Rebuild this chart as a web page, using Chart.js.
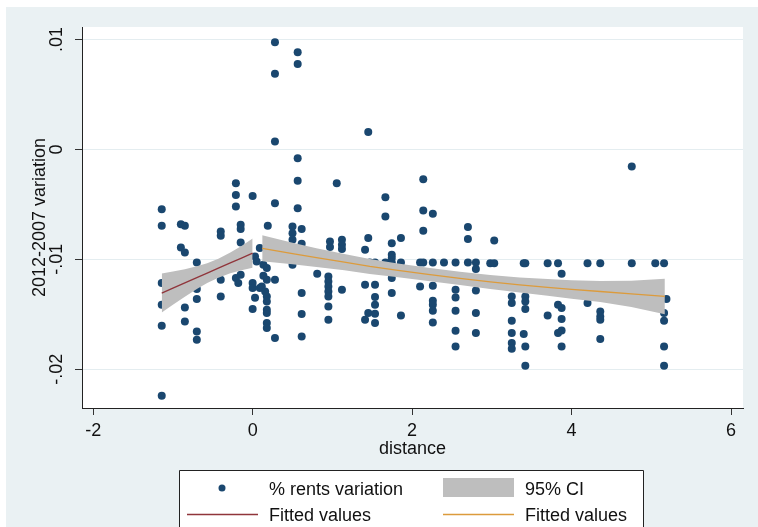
<!DOCTYPE html>
<html>
<head>
<meta charset="utf-8">
<script src="https://cdn.jsdelivr.net/npm/chart.js@4/dist/chart.umd.min.js"></script>
<style>
  html, body { margin: 0; padding: 0; background: #fff; }
  canvas { display: block; }
</style>
</head>
<body>
<canvas id="chart" width="758" height="527"></canvas>
<script>
// scatter: distance vs 2012-2007 rent variation
const distance = [
  -1.14, -1.14, -1.14, -1.14, -1.14, -1.14,
  -0.90, -0.90,
  -0.85, -0.85, -0.85, -0.85,
  -0.70, -0.70, -0.70, -0.70, -0.70,
  -0.40, -0.40, -0.40, -0.40,
  -0.21, -0.21, -0.21, -0.21,
  -0.18,
  -0.15, -0.15, -0.15, -0.15,
  0.00, 0.00, 0.00, 0.00,
  0.03, 0.03,
  0.05,
  0.09, 0.09,
  0.115,
  0.135, 0.135,
  0.157,
  0.178, 0.178, 0.178, 0.178, 0.178, 0.178, 0.178, 0.178,
  0.19,
  0.28, 0.28, 0.28, 0.28, 0.28, 0.28,
  0.50, 0.50, 0.50, 0.50,
  0.565, 0.565, 0.565, 0.565, 0.565,
  0.615, 0.615, 0.615, 0.615, 0.615,
  0.81,
  0.95, 0.95, 0.95, 0.95, 0.95, 0.95, 0.95,
  0.97, 0.97,
  1.055,
  1.12, 1.12, 1.12, 1.12,
  1.41, 1.41, 1.41,
  1.45, 1.45, 1.45,
  1.47,
  1.535, 1.535, 1.535, 1.535, 1.535, 1.535,
  1.665, 1.665, 1.665,
  1.745, 1.745, 1.745, 1.745, 1.745, 1.745,
  1.86, 1.86, 1.86,
  2.10, 2.10,
  2.14, 2.14, 2.14, 2.14,
  2.26, 2.26, 2.26, 2.26, 2.26, 2.26, 2.26,
  2.40,
  2.545, 2.545, 2.545, 2.545, 2.545, 2.545,
  2.70, 2.70, 2.70,
  2.80, 2.80, 2.80, 2.80, 2.80,
  2.98,
  3.03, 3.03,
  3.25, 3.25, 3.25, 3.25, 3.25, 3.25,
  3.40, 3.40,
  3.42, 3.42, 3.42, 3.42, 3.42, 3.42,
  3.70, 3.70,
  3.83, 3.83, 3.83,
  3.875, 3.875, 3.875, 3.875, 3.875,
  4.20, 4.20,
  4.36, 4.36, 4.36, 4.36, 4.36,
  4.755, 4.755,
  5.05,
  5.16, 5.16, 5.16, 5.16, 5.16,
  5.19
];
const rentVar = [
  -.00544, -.00695, -.01216, -.01414, -.01605, -.02241,
  -.00680, -.00893,
  -.00695, -.00938, -.01438, -.01565,
  -.01029, -.01271, -.01362, -.01656, -.01732,
  -.00747, -.00786, -.01186, -.01338,
  -.00307, -.00414, -.00520, -.01171,
  -.01216,
  -.00686, -.00725, -.00847, -.01141,
  -.00423, -.01216, -.01262, -.01453,
  -.00975, -.01350,
  -.01020,
  -.00898, -.01262,
  -.01247,
  -.01050, -.01150,
  -.01293,
  -.01080, -.01186, -.01338, -.01384, -.01459, -.01489, -.01580, -.01625,
  -.00695,
  .00975, .00689, .00071, -.00489, -.01186, -.01716,
  -.00702, -.00762, -.00823, -.01050,
  .00884, .00777, -.00080, -.00284, -.00535,
  -.00725, -.00859, -.01307, -.01498, -.01702,
  -.01132,
  -.01156, -.01202, -.01247, -.01293, -.01338, -.01429, -.01550,
  -.00838, -.00889,
  -.00307,
  -.00823, -.00868, -.00907, -.01277,
  -.00914, -.01232, -.01550,
  .00159, -.00807, -.01489,
  -.01029,
  -.01029, -.01232, -.01344, -.01414, -.01495, -.01580,
  -.00436, -.00611, -.01029,
  -.00853, -.00959, -.00989, -.01029, -.01171, -.01307,
  -.00807, -.01029, -.01511,
  -.01029, -.01247,
  -.00271, -.00556, -.00741, -.01029,
  -.00586, -.01029, -.01241, -.01377, -.01414, -.01468, -.01575,
  -.01029,
  -.01029, -.01277, -.01347, -.01468, -.01650, -.01793,
  -.00707, -.00816, -.01029,
  -.01029, -.01089, -.01284, -.01489, -.01671,
  -.01035,
  -.00829, -.01035,
  -.01338, -.01398, -.01559, -.01671, -.01762, -.01814,
  -.01035, -.01680,
  -.01035, -.01338, -.01384, -.01453, -.01793, -.01968,
  -.01035, -.01511,
  -.01035, -.01414, -.01671,
  -.01132, -.01444, -.01544, -.01647, -.01793,
  -.01035, -.01398,
  -.01035, -.01475, -.01520, -.01550, -.01725,
  -.00156, -.01035,
  -.01035,
  -.01035, -.01489, -.01559, -.01793, -.01968,
  -.01362
];

// fitted values + 95% CI, left of the border (distance < 0)
const fitLeftX  = [-1.14, -1.0, -0.85, -0.7, -0.57, -0.43, -0.28, -0.14, 0];
const fitLeftY  = [-.01307, -.01262, -.01215, -.01167, -.01126, -.01081, -.01033, -.00989, -.00944];
const ciLeftHi  = [-.01129, -.01111, -.01090, -.01064, -.01036, -.00995, -.00939, -.00878, -.00811];
const ciLeftLo  = [-.01485, -.01413, -.01340, -.01270, -.01216, -.01167, -.01127, -.01100, -.01077];

// fitted values + 95% CI, right side (distance > 0)
const fitRightX = [0.12, 0.5, 0.8, 1.15, 1.47, 1.8, 2.2, 2.6, 2.98, 3.35, 3.7, 4.0, 4.36, 4.75, 5.17];
const fitRightY = [-.00900, -.00948, -.00984, -.01026, -.01065, -.01098, -.01137, -.01173, -.01206, -.01233, -.01256, -.01274, -.01293, -.01315, -.01338];
const ciRightHi = [-.00782, -.00850, -.00899, -.00952, -.00997, -.01035, -.01077, -.01113, -.01143, -.01165, -.01180, -.01190, -.01198, -.01195, -.01176];
const ciRightLo = [-.01018, -.01046, -.01069, -.01100, -.01133, -.01161, -.01197, -.01233, -.01269, -.01301, -.01332, -.01358, -.01388, -.01435, -.01500];

const xTicks = [-2, 0, 2, 4, 6];
const yTicks = [-.02, -.01, 0, .01];
const yTickLabels = ['-.02', '-.01', '0', '.01'];

const NAVY = '#1a476f';
const MAROON = '#90353b';
const ORANGE = '#dc9b3c';
const CI_GRAY = '#bebebe';
const FONT = "'Liberation Sans', Arial, sans-serif";

function pts(xs, ys) {
  return xs.map((x, i) => ({ x: x, y: ys[i] }));
}

const stataFrame = {
  id: 'stataFrame',
  beforeDraw(chart) {
    const ctx = chart.ctx;
    const a = chart.chartArea;
    ctx.save();
    ctx.fillStyle = '#fff';
    ctx.fillRect(0, 0, chart.width, chart.height);
    ctx.fillStyle = '#eaf1f3';
    ctx.fillRect(6, 7, chart.width - 6, chart.height - 7);
    ctx.fillStyle = '#fff';
    ctx.fillRect(a.left, a.top, a.right - a.left, a.bottom - a.top);
    ctx.restore();
  },
  afterDraw(chart) {
    const ctx = chart.ctx;
    const a = chart.chartArea;
    const yScale = chart.scales.y;
    ctx.save();
    ctx.fillStyle = '#111';
    ctx.font = '18px ' + FONT;
    ctx.textAlign = 'center';
    ctx.textBaseline = 'alphabetic';
    // rotated y tick labels
    yTicks.forEach((v, i) => {
      ctx.save();
      ctx.translate(a.left - 20, yScale.getPixelForValue(v));
      ctx.rotate(-Math.PI / 2);
      ctx.fillText(yTickLabels[i], 0, 0);
      ctx.restore();
    });
    // y title
    ctx.save();
    ctx.translate(45, (a.top + a.bottom) / 2);
    ctx.rotate(-Math.PI / 2);
    ctx.fillText('2012-2007 variation', 0, 0);
    ctx.restore();

    // legend box
    ctx.fillStyle = '#fff';
    ctx.fillRect(179.5, 470.5, 464, 60);
    ctx.strokeStyle = '#222';
    ctx.lineWidth = 1;
    ctx.beginPath();
    ctx.moveTo(179.5, 530);
    ctx.lineTo(179.5, 470.5);
    ctx.lineTo(643.5, 470.5);
    ctx.lineTo(643.5, 530);
    ctx.stroke();

    ctx.fillStyle = NAVY;
    ctx.beginPath();
    ctx.arc(222, 488, 3.5, 0, Math.PI * 2);
    ctx.fill();
    ctx.fillStyle = CI_GRAY;
    ctx.fillRect(443, 478, 71, 19);
    ctx.lineWidth = 1.3;
    ctx.strokeStyle = MAROON;
    ctx.beginPath(); ctx.moveTo(187, 514.5); ctx.lineTo(258, 514.5); ctx.stroke();
    ctx.strokeStyle = ORANGE;
    ctx.beginPath(); ctx.moveTo(443, 514.5); ctx.lineTo(514, 514.5); ctx.stroke();

    ctx.fillStyle = '#111';
    ctx.textAlign = 'left';
    ctx.fillText('% rents variation', 269, 495);
    ctx.fillText('95% CI', 525, 495);
    ctx.fillText('Fitted values', 269, 521);
    ctx.fillText('Fitted values', 525, 521);
    ctx.restore();
  }
};

new Chart(document.getElementById('chart'), {
  type: 'line',
  data: {
    datasets: [
      { label: 'Fitted values', data: pts(fitLeftX, fitLeftY), borderColor: MAROON, borderWidth: 1.3, pointRadius: 0, fill: false },
      { label: 'Fitted values', data: pts(fitRightX, fitRightY), borderColor: ORANGE, borderWidth: 1.3, pointRadius: 0, fill: false },
      { label: '95% CI', data: pts(fitLeftX, ciLeftHi), borderWidth: 0, pointRadius: 0, backgroundColor: CI_GRAY, fill: '+1' },
      { label: '95% CI lo', data: pts(fitLeftX, ciLeftLo), borderWidth: 0, pointRadius: 0, fill: false },
      { label: '95% CI', data: pts(fitRightX, ciRightHi), borderWidth: 0, pointRadius: 0, backgroundColor: CI_GRAY, fill: '+1' },
      { label: '95% CI lo', data: pts(fitRightX, ciRightLo), borderWidth: 0, pointRadius: 0, fill: false },
      {
        type: 'scatter',
        label: '% rents variation',
        data: pts(distance, rentVar),
        pointRadius: 4,
        pointBorderWidth: 0,
        backgroundColor: NAVY,
        borderColor: NAVY,
        showLine: false
      }
    ]
  },
  options: {
    responsive: false,
    animation: false,
    devicePixelRatio: 1,
    events: [],
    layout: { padding: { left: 0, right: 15, top: 27, bottom: 67 } },
    plugins: { legend: { display: false }, tooltip: { enabled: false } },
    scales: {
      x: {
        type: 'linear',
        min: -2.14,
        max: 6.15,
        afterBuildTicks: s => { s.ticks = xTicks.map(v => ({ value: v })); },
        afterFit: s => { s.height = 52; },
        grid: { drawOnChartArea: false, drawTicks: true, tickLength: 7, tickColor: '#333' },
        border: { color: '#222', width: 1 },
        ticks: { color: '#111', padding: 5, font: { size: 18, family: FONT }, maxRotation: 0 },
        title: { display: true, text: 'distance', color: '#111', font: { size: 18, family: FONT }, padding: { top: 0, bottom: 0 } }
      },
      y: {
        type: 'linear',
        min: -0.02353,
        max: 0.01114,
        afterBuildTicks: s => { s.ticks = yTicks.map(v => ({ value: v })); },
        afterFit: s => { s.width = 82; },
        grid: { color: '#e4edf0', lineWidth: 1, drawTicks: true, tickLength: 7, tickColor: '#333' },
        border: { color: '#222', width: 1 },
        ticks: { display: false }
      }
    }
  },
  plugins: [stataFrame]
});
</script>
</body>
</html>
